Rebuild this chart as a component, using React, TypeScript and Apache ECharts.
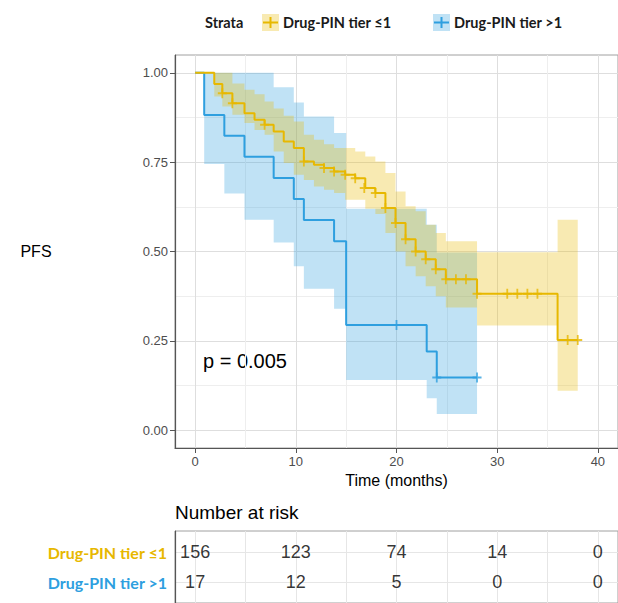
import React, { useEffect, useRef } from "react";
import * as echarts from "echarts";

const ORANGE = "#E7B800";
const BLUE = "#2E9FDF";
const ORANGE_BAND = "rgba(231,184,0,0.3)";
const BLUE_BAND = "rgba(46,159,223,0.3)";

const strata = ["Drug-PIN tier ≤1", "Drug-PIN tier >1"];

// Drug-PIN tier ≤1 : Kaplan–Meier steps (time in months, survival) and CI
const lowTime = [0, 1.9, 2.7, 3.7, 4.9, 5.9, 6.9, 7.8, 8.8, 9.8, 10.8, 11.8, 12.8, 13.8, 14.9, 15.9, 16.9, 17.9, 18.9, 19.9, 20.9, 21.9, 22.9, 23.9, 24.9, 28.0, 36.0, 38.0];
const lowSurv = [1.0, 0.969, 0.943, 0.915, 0.887, 0.869, 0.855, 0.836, 0.808, 0.79, 0.752, 0.743, 0.734, 0.724, 0.715, 0.705, 0.678, 0.664, 0.622, 0.58, 0.534, 0.5, 0.478, 0.45, 0.422, 0.382, 0.252, 0.252];
const lowLower = [1.0, 0.934, 0.906, 0.883, 0.86, 0.84, 0.827, 0.78, 0.748, 0.715, 0.7, 0.682, 0.673, 0.664, 0.645, 0.645, 0.62, 0.605, 0.552, 0.5, 0.459, 0.431, 0.403, 0.375, 0.343, 0.293, 0.11, 0.11];
const lowUpper = [1.0, 1.0, 1.0, 0.97, 0.953, 0.94, 0.92, 0.9, 0.88, 0.864, 0.827, 0.813, 0.8, 0.79, 0.79, 0.78, 0.766, 0.752, 0.72, 0.668, 0.627, 0.613, 0.575, 0.552, 0.529, 0.498, 0.589, 0.589];
const lowCensorTime = [2.7, 3.7, 6.9, 10.8, 12.8, 13.8, 14.9, 15.9, 16.8, 17.9, 18.9, 19.9, 20.9, 21.9, 22.9, 23.9, 24.9, 25.9, 26.9, 28.0, 31.0, 32.0, 33.0, 34.0, 37.0, 38.0];
const lowCensorSurv = [0.943, 0.915, 0.855, 0.752, 0.734, 0.724, 0.715, 0.705, 0.678, 0.664, 0.622, 0.58, 0.534, 0.5, 0.478, 0.45, 0.422, 0.422, 0.422, 0.382, 0.382, 0.382, 0.382, 0.382, 0.252, 0.252];

// Drug-PIN tier >1
const highTime = [0, 0.9, 2.9, 4.9, 7.8, 9.8, 10.8, 13.8, 15, 23, 24, 28];
const highSurv = [1.0, 0.882, 0.824, 0.765, 0.706, 0.647, 0.588, 0.529, 0.294, 0.22, 0.147, 0.147];
const highLower = [1.0, 0.745, 0.662, 0.589, 0.525, 0.459, 0.396, 0.34, 0.14, 0.089, 0.045, 0.045];
const highUpper = [1.0, 1.0, 1.0, 1.0, 0.96, 0.917, 0.878, 0.832, 0.62, 0.575, 0.497, 0.497];
const highCensorTime = [20, 24, 28];
const highCensorSurv = [0.294, 0.147, 0.147];

// Number at risk
const riskTimes = [0, 10, 20, 30, 40];
const riskLow = [156, 123, 74, 14, 0];
const riskHigh = [17, 12, 5, 0, 0];

// Axis ticks
const xTicks = [0, 10, 20, 30, 40];
const xMinor = [5, 15, 25, 35];
const yTicks = [0, 0.25, 0.5, 0.75, 1];
const yMinor = [0.125, 0.375, 0.625, 0.875];
const riskGrid = [0, 5, 10, 15, 20, 25, 30, 35, 40];

const pValueText = "p = 0.005";

const SANS = "'Liberation Sans', Arial, sans-serif";
const LEG = "Lato, 'Open Sans', sans-serif";
const PLUS = "path://M-0.2,-1H0.2V-0.2H1V0.2H0.2V1H-0.2V0.2H-1V-0.2H-0.2Z";

function band(times: number[], lo: number[], hi: number[], fill: string) {
  const rows = times.map((t, i) => [t, lo[i], hi[i]]);
  return {
    type: "custom",
    xAxisIndex: 0,
    yAxisIndex: 0,
    silent: true,
    data: rows,
    renderItem: (params: any, api: any) => {
      if (params.dataIndex !== 0) return null;
      const top: number[][] = [];
      const bottom: number[][] = [];
      for (let i = 0; i < rows.length; i++) {
        const t = rows[i][0];
        const tn = i < rows.length - 1 ? rows[i + 1][0] : t;
        top.push(api.coord([t, rows[i][2]]), api.coord([tn, rows[i][2]]));
        bottom.push(api.coord([t, rows[i][1]]), api.coord([tn, rows[i][1]]));
      }
      return {
        type: "polygon",
        shape: { points: top.concat(bottom.reverse()) },
        style: { fill },
      };
    },
  };
}

function legendKey(x: number, color: string, fill: string, label: string) {
  return [
    { type: "rect", left: x, top: 14, shape: { width: 17, height: 17 }, style: { fill } },
    { type: "line", shape: { x1: x + 1, y1: 22.5, x2: x + 16, y2: 22.5 }, style: { stroke: color, lineWidth: 2 } },
    { type: "line", shape: { x1: x + 8.5, y1: 17, x2: x + 8.5, y2: 28 }, style: { stroke: color, lineWidth: 2 } },
    { type: "text", x: x + 21, y: 22.5, style: { text: label, fill: "#1a1a1a", font: `bold 14.5px ${LEG}`, textVerticalAlign: "middle", verticalAlign: "middle" } },
  ];
}

export default function App() {
  const ref = useRef<HTMLDivElement>(null);
  useEffect(() => {
    if (!ref.current) return;
    const chart = echarts.init(ref.current, null, { renderer: "svg" });
    const option: any = {
      animation: false,
      backgroundColor: "#fff",
      grid: [
        { left: 175, top: 55, width: 444, height: 393, show: true, borderColor: "#A0A0A0", borderWidth: 1, backgroundColor: "#fff" },
        { left: 175, top: 531, width: 444, height: 77, show: true, borderColor: "#A0A0A0", borderWidth: 1, backgroundColor: "#fff" },
      ],
      xAxis: [
        {
          gridIndex: 0, type: "value", min: -2, max: 42,
          axisLine: { show: true, onZero: false, lineStyle: { color: "#555", width: 1.2 } },
          axisTick: { show: true, length: 5, customValues: xTicks, lineStyle: { color: "#555" } },
          axisLabel: { customValues: xTicks, color: "#4D4D4D", fontSize: 13, fontFamily: SANS, margin: 7 },
          splitLine: { show: true, lineStyle: { color: "#DEDEDE", width: 1 } },
          name: "Time (months)", nameLocation: "middle", nameGap: 24,
          nameTextStyle: { fontSize: 16, color: "#000", fontFamily: SANS },
        },
        {
          gridIndex: 0, type: "value", min: -2, max: 42, position: "top",
          axisLine: { show: false }, axisTick: { show: false, customValues: xMinor }, axisLabel: { show: false },
          splitLine: { show: true, lineStyle: { color: "#EEEEEE", width: 1 } },
        },
        {
          gridIndex: 1, type: "value", min: -2, max: 42,
          axisLine: { show: false }, axisTick: { show: false, customValues: riskGrid }, axisLabel: { show: false },
          splitLine: { show: true, lineStyle: { color: "#E6E6E6", width: 1 } },
        },
      ],
      yAxis: [
        {
          gridIndex: 0, type: "value", min: -0.05, max: 1.05,
          axisLine: { show: true, onZero: false, lineStyle: { color: "#555", width: 1.2 } },
          axisTick: { show: true, length: 5, customValues: yTicks, lineStyle: { color: "#555" } },
          axisLabel: { customValues: yTicks, color: "#4D4D4D", fontSize: 13, fontFamily: SANS, margin: 7, formatter: (v: number) => v.toFixed(2) },
          splitLine: { show: true, lineStyle: { color: "#DEDEDE", width: 1 } },
        },
        {
          gridIndex: 0, type: "value", min: -0.05, max: 1.05, position: "right",
          axisLine: { show: false }, axisTick: { show: false, customValues: yMinor }, axisLabel: { show: false },
          splitLine: { show: true, lineStyle: { color: "#EEEEEE", width: 1 } },
        },
        {
          gridIndex: 1, type: "value", min: 0.3, max: 2.7, inverse: true,
          axisLine: { show: true, onZero: false, lineStyle: { color: "#555", width: 1.2 } },
          axisTick: { show: false, customValues: [1, 2] },
          axisLabel: {
            customValues: [1, 2], margin: 8,
            formatter: (v: number) => (v === 1 ? `{a|${strata[0]}}` : `{b|${strata[1]}}`),
            rich: {
              a: { color: ORANGE, fontSize: 16, fontWeight: "bold", fontFamily: LEG },
              b: { color: BLUE, fontSize: 16, fontWeight: "bold", fontFamily: LEG },
            },
          },
          splitLine: { show: true, lineStyle: { color: "#E6E6E6", width: 1 } },
        },
      ],
      series: [
        band(highTime, highLower, highUpper, BLUE_BAND),
        band(lowTime, lowLower, lowUpper, ORANGE_BAND),
        {
          type: "line", name: strata[1], xAxisIndex: 0, yAxisIndex: 0, step: "end", showSymbol: false, silent: true,
          data: highTime.map((t, i) => [t, highSurv[i]]),
          lineStyle: { color: BLUE, width: 2 }, itemStyle: { color: BLUE },
        },
        {
          type: "line", name: strata[0], xAxisIndex: 0, yAxisIndex: 0, step: "end", showSymbol: false, silent: true,
          data: lowTime.map((t, i) => [t, lowSurv[i]]),
          lineStyle: { color: ORANGE, width: 2 }, itemStyle: { color: ORANGE },
        },
        {
          type: "scatter", xAxisIndex: 0, yAxisIndex: 0, symbol: PLUS, symbolSize: [9, 10], silent: true,
          data: highCensorTime.map((t, i) => [t, highCensorSurv[i]]), itemStyle: { color: BLUE },
        },
        {
          type: "scatter", xAxisIndex: 0, yAxisIndex: 0, symbol: PLUS, symbolSize: [9, 10], silent: true,
          data: lowCensorTime.map((t, i) => [t, lowCensorSurv[i]]), itemStyle: { color: ORANGE },
        },
        {
          type: "scatter", xAxisIndex: 2, yAxisIndex: 2, symbolSize: 1, silent: true,
          data: riskTimes.map((t, i) => [t, 1, riskLow[i]]).concat(riskTimes.map((t, i) => [t, 2, riskHigh[i]])),
          itemStyle: { color: "transparent" },
          label: { show: true, position: "inside", formatter: (p: any) => String(p.value[2]), color: "#000", fontSize: 18, fontFamily: SANS },
        },
      ],
      graphic: [
        { type: "text", x: 36, y: 251, style: { text: "PFS", fill: "#000", font: `16px ${SANS}`, textAlign: "center", textVerticalAlign: "middle", align: "center", verticalAlign: "middle" } },
        { type: "text", x: 203, y: 361, style: { text: pValueText, fill: "#000", font: `20px ${SANS}`, textVerticalAlign: "middle", verticalAlign: "middle" } },
        { type: "text", x: 175, y: 512, style: { text: "Number at risk", fill: "#000", font: `19px ${SANS}`, textVerticalAlign: "middle", verticalAlign: "middle" } },
        { type: "text", x: 205, y: 22.5, style: { text: "Strata", fill: "#1a1a1a", font: `bold 14.5px ${LEG}`, textVerticalAlign: "middle", verticalAlign: "middle" } },
        ...legendKey(262, ORANGE, ORANGE_BAND, strata[0]),
        ...legendKey(433, BLUE, BLUE_BAND, strata[1]),
      ],
    };
    chart.setOption(option);
    return () => chart.dispose();
  }, []);
  return (
    <div
      ref={ref}
      style={{ position: "fixed", left: 0, top: 0, width: 618, height: 603, background: "#fff" }}
    />
  );
}
